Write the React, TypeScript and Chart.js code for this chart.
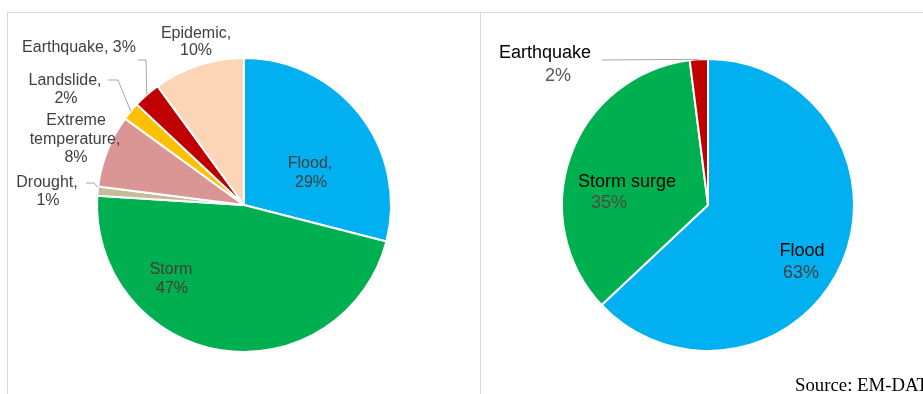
import React, { useEffect, useRef } from "react";
import { Chart, registerables } from "chart.js";

Chart.register(...registerables);

// Share of disaster events by hazard type (%)
const hazardTypes = ["Flood", "Storm", "Drought", "Extreme temperature", "Landslide", "Earthquake", "Epidemic"];
const hazardShares = [29, 47, 1, 8, 2, 3, 10];
const hazardColors = ["#00B0F0", "#00B050", "#C4BD97", "#D99694", "#FFC000", "#C00000", "#FBD5B5"];

// Share of losses by hazard type (%)
const lossTypes = ["Flood", "Storm surge", "Earthquake"];
const lossShares = [63, 35, 2];
const lossColors = ["#00B0F0", "#00B050", "#C00000"];

const sourceNote = "Source: EM-DAT";

type TextLine = { text: string; dx: number; dy: number; color: string; font: string };
// t: where along the slice's arc the leader line ends (0 = start edge, 1 = end edge)
type Leader = { index: number; t: number; path: [number, number][] };

const SANS = '"Liberation Sans", Arial, sans-serif';
const leftFont = `16px ${SANS}`;
const rightFont = `18px ${SANS}`;
const labelGray = "#404040";

// Label text placed relative to the pie centre (dy is the baseline)
const leftText: TextLine[] = [
  { text: "Flood,", dx: 66, dy: -37, color: labelGray, font: leftFont },
  { text: `${hazardShares[0]}%`, dx: 67, dy: -18.5, color: labelGray, font: leftFont },
  { text: "Storm", dx: -73, dy: 69, color: "#4a3a36", font: leftFont },
  { text: `${hazardShares[1]}%`, dx: -72, dy: 87.5, color: "#4a3a36", font: leftFont },
  { text: "Drought,", dx: -197, dy: -18, color: labelGray, font: leftFont },
  { text: `${hazardShares[2]}%`, dx: -196, dy: 0, color: labelGray, font: leftFont },
  { text: "Extreme", dx: -168, dy: -80, color: labelGray, font: leftFont },
  { text: "temperature,", dx: -169, dy: -61.5, color: labelGray, font: leftFont },
  { text: `${hazardShares[3]}%`, dx: -168, dy: -43, color: labelGray, font: leftFont },
  { text: "Landslide,", dx: -179, dy: -120, color: labelGray, font: leftFont },
  { text: `${hazardShares[4]}%`, dx: -178, dy: -102, color: labelGray, font: leftFont },
  { text: `Earthquake, ${hazardShares[5]}%`, dx: -165, dy: -153.5, color: labelGray, font: leftFont },
  { text: "Epidemic,", dx: -48, dy: -167.5, color: labelGray, font: leftFont },
  { text: `${hazardShares[6]}%`, dx: -48, dy: -150, color: labelGray, font: leftFont },
];

const leftLeaders: Leader[] = [
  { index: 2, t: 0.9, path: [[-158, -22], [-150, -22]] },
  { index: 4, t: 0.5, path: [[-136, -125], [-126, -125]] },
  { index: 5, t: 0.5, path: [[-106, -145], [-98, -145]] },
];

const rightText: TextLine[] = [
  { text: "Earthquake", dx: -163, dy: -147, color: "#000000", font: rightFont },
  { text: `${lossShares[2]}%`, dx: -150, dy: -124.5, color: "#595959", font: rightFont },
  { text: "Storm surge", dx: -81, dy: -18, color: "#000000", font: rightFont },
  { text: `${lossShares[1]}%`, dx: -99, dy: 3, color: "#4f4a40", font: rightFont },
  { text: "Flood", dx: 94, dy: 51, color: "#000000", font: rightFont },
  { text: `${lossShares[0]}%`, dx: 93, dy: 73, color: "#404040", font: rightFont },
];

const rightLeaders: Leader[] = [{ index: 2, t: 0.5, path: [[-106, -145]] }];

function labelPlugin(lines: TextLine[], leaders: Leader[], note?: string) {
  return {
    id: "sliceLabels",
    afterDatasetsDraw(chart: Chart) {
      const meta = chart.getDatasetMeta(0);
      const first: any = meta.data[0];
      if (!first) return;
      const cx = first.x;
      const cy = first.y;
      const r = first.outerRadius;
      const ctx = chart.ctx;
      ctx.save();

      ctx.strokeStyle = "#a6a6a6";
      ctx.lineWidth = 1;
      for (const ld of leaders) {
        const arc: any = meta.data[ld.index];
        const a = arc.startAngle + (arc.endAngle - arc.startAngle) * ld.t;
        ctx.beginPath();
        ld.path.forEach(([px, py], i) => {
          if (i === 0) ctx.moveTo(cx + px, cy + py);
          else ctx.lineTo(cx + px, cy + py);
        });
        ctx.lineTo(cx + Math.cos(a) * r, cy + Math.sin(a) * r);
        ctx.stroke();
      }

      ctx.textAlign = "center";
      ctx.textBaseline = "alphabetic";
      for (const ln of lines) {
        ctx.font = ln.font;
        ctx.fillStyle = ln.color;
        ctx.fillText(ln.text, cx + ln.dx, cy + ln.dy);
      }

      if (note) {
        ctx.font = '18.8px "Liberation Serif", "Times New Roman", serif';
        ctx.fillStyle = "#000000";
        ctx.textAlign = "left";
        ctx.fillText(note, cx + 87, cy + 186);
      }
      ctx.restore();
    },
  };
}

function makePie(
  canvas: HTMLCanvasElement,
  labels: string[],
  values: number[],
  colors: string[],
  radius: number,
  padding: { left: number; top: number },
  plugin: any
) {
  return new Chart(canvas, {
    type: "pie",
    data: {
      labels,
      datasets: [
        {
          data: values,
          backgroundColor: colors,
          borderColor: "#ffffff",
          borderWidth: 2,
          radius,
        } as any,
      ],
    },
    options: {
      responsive: false,
      animation: false,
      layout: { padding },
      plugins: { legend: { display: false }, tooltip: { enabled: false } },
    },
    plugins: [plugin],
  });
}

export default function App() {
  const leftRef = useRef<HTMLCanvasElement>(null);
  const rightRef = useRef<HTMLCanvasElement>(null);

  useEffect(() => {
    const left = makePie(
      leftRef.current!,
      hazardTypes,
      hazardShares,
      hazardColors,
      147,
      { left: 0, top: 3 },
      labelPlugin(leftText, leftLeaders)
    );
    const right = makePie(
      rightRef.current!,
      lossTypes,
      lossShares,
      lossColors,
      146,
      { left: 11, top: 3 },
      labelPlugin(rightText, rightLeaders, sourceNote)
    );
    return () => {
      left.destroy();
      right.destroy();
    };
  }, []);

  return (
    <div
      style={{
        position: "absolute",
        left: 0,
        top: 0,
        width: 923,
        height: 394,
        overflow: "hidden",
        background: "#ffffff",
      }}
    >
      <div
        style={{
          position: "absolute",
          left: 7,
          top: 12,
          width: 474,
          height: 382,
          borderTop: "1px solid #d9d9d9",
          borderLeft: "1px solid #d9d9d9",
          boxSizing: "border-box",
        }}
      />
      <div
        style={{
          position: "absolute",
          left: 480,
          top: 12,
          width: 443,
          height: 382,
          borderTop: "1px solid #d9d9d9",
          borderLeft: "1px solid #d9d9d9",
          boxSizing: "border-box",
        }}
      />
      <canvas
        ref={leftRef}
        width={472}
        height={381}
        style={{ position: "absolute", left: 8, top: 13, width: 472, height: 381 }}
      />
      <canvas
        ref={rightRef}
        width={441}
        height={381}
        style={{ position: "absolute", left: 482, top: 13, width: 441, height: 381 }}
      />
    </div>
  );
}
